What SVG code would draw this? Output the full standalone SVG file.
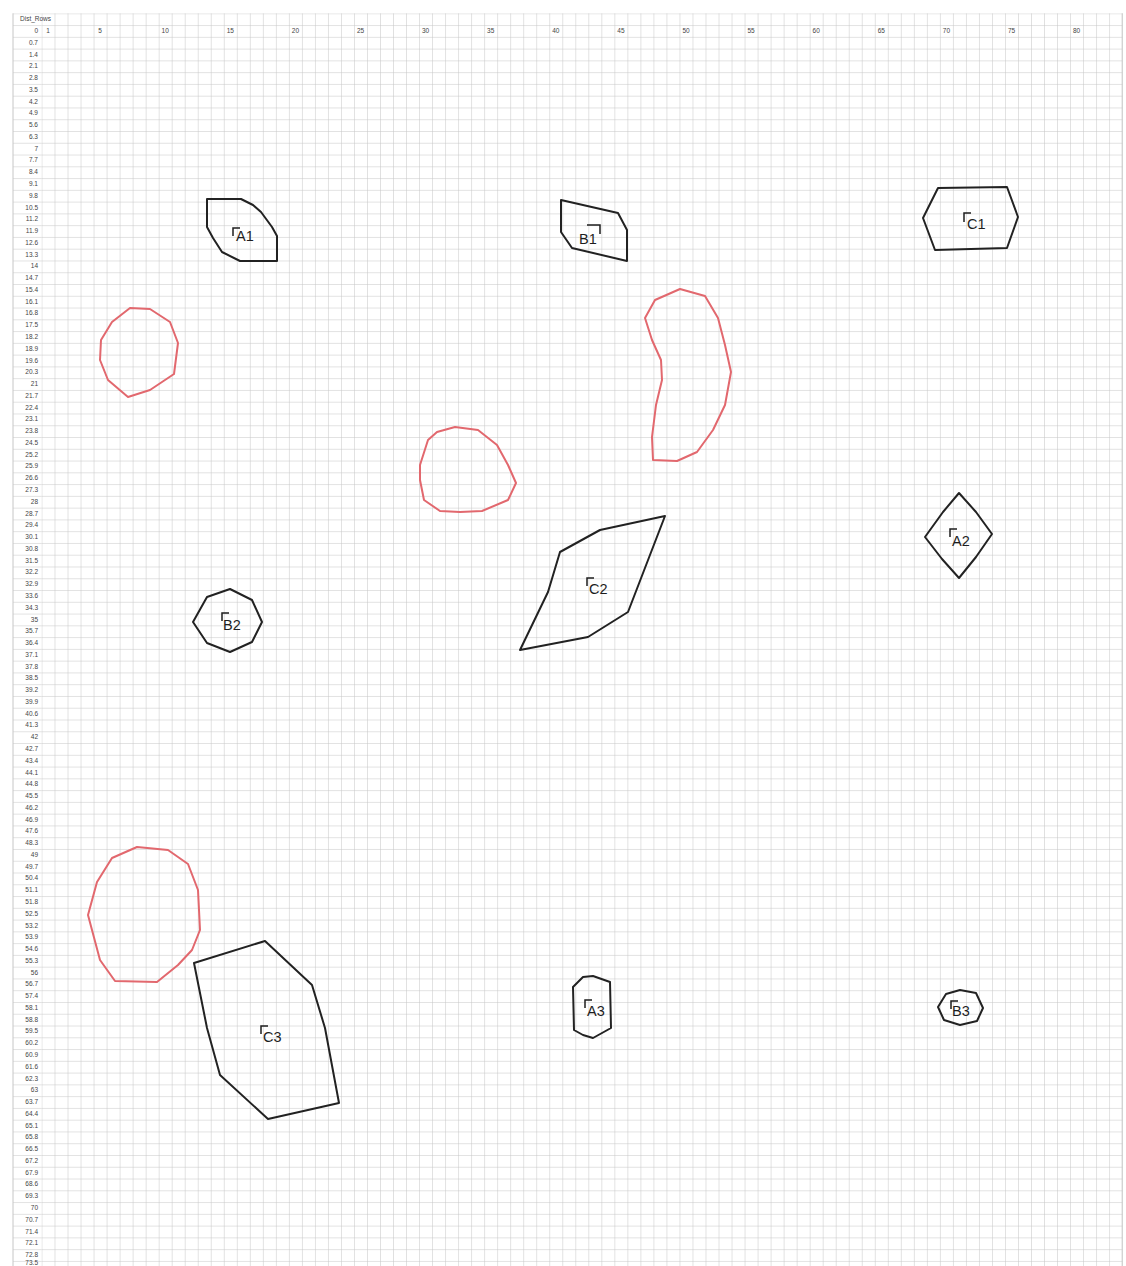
<svg xmlns="http://www.w3.org/2000/svg" width="1126" height="1266" viewBox="0 0 1126 1266">
<style>
.ax{font-family:"Liberation Sans",Arial,sans-serif;font-size:6.5px;fill:#444}
.lbl{font-family:"Liberation Sans",Arial,sans-serif;font-size:14.5px;fill:#1e1e1e}
.shape{fill:none;stroke:#222;stroke-width:2;stroke-linejoin:round}
.red{fill:none;stroke:#e2686e;stroke-width:2;stroke-linejoin:round}
.br{fill:none;stroke:#1e1e1e;stroke-width:1.5}
</style>
<defs>
<pattern id="grid" x="41.5" y="13.3" width="13.02" height="11.77" patternUnits="userSpaceOnUse">
<path d="M0 0V11.77M0 0H13.02" fill="none" stroke="#c6c6c6" stroke-width="1"/>
</pattern>
<pattern id="hgrid" x="0" y="13.3" width="30" height="11.77" patternUnits="userSpaceOnUse">
<path d="M0 0H30" fill="none" stroke="#c6c6c6" stroke-width="1"/>
</pattern>
</defs>
<rect width="1126" height="1266" fill="#fff"/>
<g id="grid-area">
<rect x="13" y="13.3" width="28.5" height="1253" fill="url(#hgrid)"/>
<rect x="41.5" y="13.3" width="1081" height="1253" fill="url(#grid)"/>
<path d="M13 13.3V1266M1122.2 13.3V1266" stroke="#c6c6c6" stroke-width="1"/>
</g>
<g id="axis-labels">
<text class="ax" x="20" y="21">Dist_Rows</text>
<text class="ax" text-anchor="middle" y="33"><tspan x="48">1</tspan><tspan x="100.1">5</tspan><tspan x="165.2">10</tspan><tspan x="230.3">15</tspan><tspan x="295.4">20</tspan><tspan x="360.5">25</tspan><tspan x="425.6">30</tspan><tspan x="490.7">35</tspan><tspan x="555.8">40</tspan><tspan x="620.9">45</tspan><tspan x="686">50</tspan><tspan x="751.1">55</tspan><tspan x="816.2">60</tspan><tspan x="881.3">65</tspan><tspan x="946.4">70</tspan><tspan x="1011.5">75</tspan><tspan x="1076.6">80</tspan></text>
<text class="ax" text-anchor="end"><tspan x="38" y="33">0</tspan><tspan x="38" y="44.77">0.7</tspan><tspan x="38" y="56.54">1.4</tspan><tspan x="38" y="68.31">2.1</tspan><tspan x="38" y="80.08">2.8</tspan><tspan x="38" y="91.85">3.5</tspan><tspan x="38" y="103.62">4.2</tspan><tspan x="38" y="115.39">4.9</tspan><tspan x="38" y="127.16">5.6</tspan><tspan x="38" y="138.93">6.3</tspan><tspan x="38" y="150.7">7</tspan><tspan x="38" y="162.47">7.7</tspan><tspan x="38" y="174.24">8.4</tspan><tspan x="38" y="186.01">9.1</tspan><tspan x="38" y="197.78">9.8</tspan><tspan x="38" y="209.55">10.5</tspan><tspan x="38" y="221.32">11.2</tspan><tspan x="38" y="233.09">11.9</tspan><tspan x="38" y="244.86">12.6</tspan><tspan x="38" y="256.63">13.3</tspan><tspan x="38" y="268.4">14</tspan><tspan x="38" y="280.17">14.7</tspan><tspan x="38" y="291.94">15.4</tspan><tspan x="38" y="303.71">16.1</tspan><tspan x="38" y="315.48">16.8</tspan><tspan x="38" y="327.25">17.5</tspan><tspan x="38" y="339.02">18.2</tspan><tspan x="38" y="350.79">18.9</tspan><tspan x="38" y="362.56">19.6</tspan><tspan x="38" y="374.33">20.3</tspan><tspan x="38" y="386.1">21</tspan><tspan x="38" y="397.87">21.7</tspan><tspan x="38" y="409.64">22.4</tspan><tspan x="38" y="421.41">23.1</tspan><tspan x="38" y="433.18">23.8</tspan><tspan x="38" y="444.95">24.5</tspan><tspan x="38" y="456.72">25.2</tspan><tspan x="38" y="468.49">25.9</tspan><tspan x="38" y="480.26">26.6</tspan><tspan x="38" y="492.03">27.3</tspan><tspan x="38" y="503.8">28</tspan><tspan x="38" y="515.57">28.7</tspan><tspan x="38" y="527.34">29.4</tspan><tspan x="38" y="539.11">30.1</tspan><tspan x="38" y="550.88">30.8</tspan><tspan x="38" y="562.65">31.5</tspan><tspan x="38" y="574.42">32.2</tspan><tspan x="38" y="586.19">32.9</tspan><tspan x="38" y="597.96">33.6</tspan><tspan x="38" y="609.73">34.3</tspan><tspan x="38" y="621.5">35</tspan><tspan x="38" y="633.27">35.7</tspan><tspan x="38" y="645.04">36.4</tspan><tspan x="38" y="656.81">37.1</tspan><tspan x="38" y="668.58">37.8</tspan><tspan x="38" y="680.35">38.5</tspan><tspan x="38" y="692.12">39.2</tspan><tspan x="38" y="703.89">39.9</tspan><tspan x="38" y="715.66">40.6</tspan><tspan x="38" y="727.43">41.3</tspan><tspan x="38" y="739.2">42</tspan><tspan x="38" y="750.97">42.7</tspan><tspan x="38" y="762.74">43.4</tspan><tspan x="38" y="774.51">44.1</tspan><tspan x="38" y="786.28">44.8</tspan><tspan x="38" y="798.05">45.5</tspan><tspan x="38" y="809.82">46.2</tspan><tspan x="38" y="821.59">46.9</tspan><tspan x="38" y="833.36">47.6</tspan><tspan x="38" y="845.13">48.3</tspan><tspan x="38" y="856.9">49</tspan><tspan x="38" y="868.67">49.7</tspan><tspan x="38" y="880.44">50.4</tspan><tspan x="38" y="892.21">51.1</tspan><tspan x="38" y="903.98">51.8</tspan><tspan x="38" y="915.75">52.5</tspan><tspan x="38" y="927.52">53.2</tspan><tspan x="38" y="939.29">53.9</tspan><tspan x="38" y="951.06">54.6</tspan><tspan x="38" y="962.83">55.3</tspan><tspan x="38" y="974.6">56</tspan><tspan x="38" y="986.37">56.7</tspan><tspan x="38" y="998.14">57.4</tspan><tspan x="38" y="1009.91">58.1</tspan><tspan x="38" y="1021.68">58.8</tspan><tspan x="38" y="1033.45">59.5</tspan><tspan x="38" y="1045.22">60.2</tspan><tspan x="38" y="1056.99">60.9</tspan><tspan x="38" y="1068.76">61.6</tspan><tspan x="38" y="1080.53">62.3</tspan><tspan x="38" y="1092.3">63</tspan><tspan x="38" y="1104.07">63.7</tspan><tspan x="38" y="1115.84">64.4</tspan><tspan x="38" y="1127.61">65.1</tspan><tspan x="38" y="1139.38">65.8</tspan><tspan x="38" y="1151.15">66.5</tspan><tspan x="38" y="1162.92">67.2</tspan><tspan x="38" y="1174.69">67.9</tspan><tspan x="38" y="1186.46">68.6</tspan><tspan x="38" y="1198.23">69.3</tspan><tspan x="38" y="1210">70</tspan><tspan x="38" y="1221.77">70.7</tspan><tspan x="38" y="1233.54">71.4</tspan><tspan x="38" y="1245.31">72.1</tspan><tspan x="38" y="1257.08">72.8</tspan><tspan x="38" y="1265">73.5</tspan></text>
</g>
<g id="obstacles">
<polygon class="red" points="101,340 112,322 130,308 150,309 170,322 178,343 174,374 150,390 128,397 108,380 100,360"/>
<polygon class="red" points="420,465 428,440 437,432 455,427 478,430 497,445 508,465 516,483 508,500 482,511 460,512 440,511 424,500 420,480"/>
<polygon class="red" points="645,318 655,300 680,289 705,296 718,318 725,345 731,372 725,405 713,430 697,452 677,461 653,460 652,437 656,405 662,380 661,360 652,340"/>
<polygon class="red" points="88,915 97,882 112,858 137,847 168,850 188,864 198,890 200,930 192,950 178,965 157,982 115,981 100,960"/>
</g>
<g id="A1">
<polygon class="shape" points="207,199 241,199 253,205 261,212 272,227 277,236 277,261 240,261 222,252 213,238 207,227"/>
<path class="br" d="M233,236V228H240"/><text class="lbl" x="236" y="241">A1</text>
</g>
<g id="B1">
<polygon class="shape" points="561,200 618,213 627,230 627,261 572,248 561,232"/>
<path class="br" d="M587,225H600V234"/><text class="lbl" x="579" y="244">B1</text>
</g>
<g id="C1">
<polygon class="shape" points="923,218 938,188 1007,187 1018,217 1007,248 935,250"/>
<path class="br" d="M964,222V213H971"/><text class="lbl" x="967" y="229">C1</text>
</g>
<g id="A2">
<polygon class="shape" points="925,537 943,512 959,493 976,512 992,534 976,557 959,578 942,559"/>
<path class="br" d="M950,537V529H957"/><text class="lbl" x="952" y="546">A2</text>
</g>
<g id="B2">
<polygon class="shape" points="193,622 207,597 230,589 252,600 262,622 252,642 230,652 207,643"/>
<path class="br" d="M222,621V613H229"/><text class="lbl" x="223" y="630">B2</text>
</g>
<g id="C2">
<polygon class="shape" points="520,650 548,592 560,552 600,530 665,516 628,612 588,637"/>
<path class="br" d="M587,586V578H594"/><text class="lbl" x="589" y="594">C2</text>
</g>
<g id="A3">
<polygon class="shape" points="573,987 583,977 593,976 610,982 611,1028 593,1038 583,1035 574,1030"/>
<path class="br" d="M585,1008V1000H592"/><text class="lbl" x="587" y="1016">A3</text>
</g>
<g id="B3">
<polygon class="shape" points="938,1007 946,994 960,990 976,993 983,1008 977,1021 960,1025 944,1020"/>
<path class="br" d="M951,1009V1001H958"/><text class="lbl" x="952" y="1016">B3</text>
</g>
<g id="C3">
<polygon class="shape" points="194,963 265,941 312,985 325,1028 339,1103 268,1119 220,1075 207,1028"/>
<path class="br" d="M261,1034V1026H268"/><text class="lbl" x="263" y="1042">C3</text>
</g>
</svg>
